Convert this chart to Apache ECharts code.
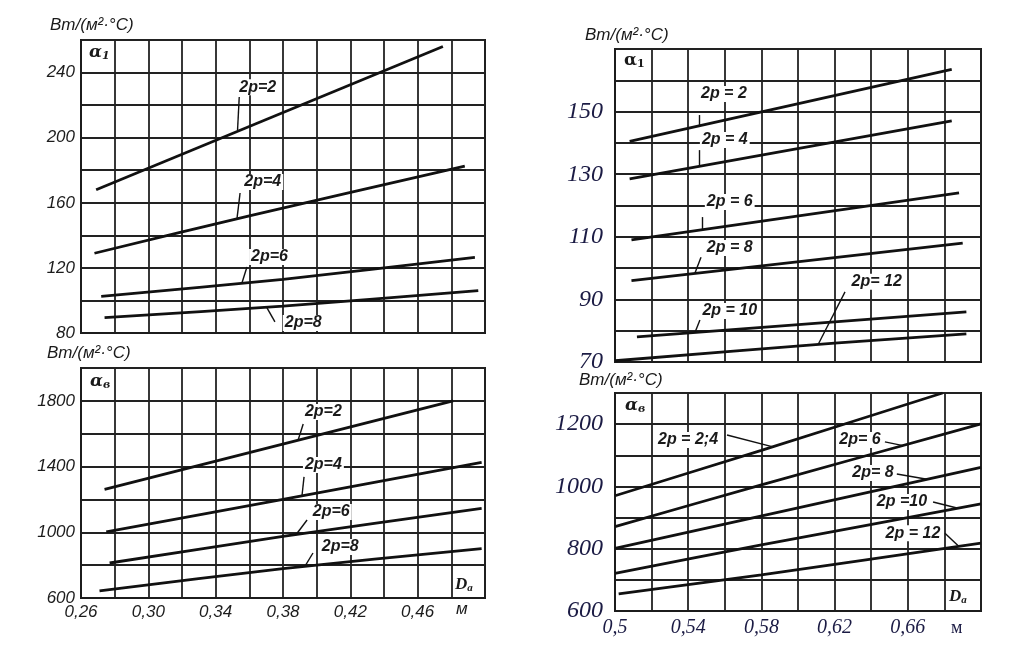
<!DOCTYPE html>
<html><head><meta charset="utf-8">
<script src="https://cdn.jsdelivr.net/npm/echarts@6/dist/echarts.min.js"></script>
<style>html,body{margin:0;padding:0;background:#fff}#c{width:1032px;height:665px}</style>
</head><body><div id="c"></div>
<script>
// ---------- DATA ----------
const xTicksLeft = ['0,26','0,30','0,34','0,38','0,42','0,46'];
const xTicksRight = ['0,5','0,54','0,58','0,62','0,66'];
const yTicksTL = [80,120,160,200,240];
const yTicksBL = [600,1000,1400,1800];
const yTicksTR = [70,90,110,130,150];
const yTicksBR = [600,800,1000,1200];

// Top-left: alpha1
const tl_2p2_x = [0.269, 0.475];        const tl_2p2_y = [168, 256];
const tl_2p4_x = [0.268, 0.36, 0.488];  const tl_2p4_y = [129, 152, 182.5];
const tl_2p6_x = [0.272, 0.38, 0.494];  const tl_2p6_y = [102.5, 113, 126.5];
const tl_2p8_x = [0.274, 0.38, 0.496];  const tl_2p8_y = [89.5, 96.5, 106];
// Bottom-left: alpha_v
const bl_2p2_x = [0.274, 0.481];        const bl_2p2_y = [1261, 1800];
const bl_2p4_x = [0.275, 0.38, 0.498];  const bl_2p4_y = [1003, 1200, 1426];
const bl_2p6_x = [0.277, 0.38, 0.498];  const bl_2p6_y = [813, 975, 1145];
const bl_2p8_x = [0.271, 0.38, 0.498];  const bl_2p8_y = [643, 779, 901];
// Top-right: alpha1
const tr_2p2_x = [0.508, 0.684];   const tr_2p2_y = [140.5, 163.5];
const tr_2p4_x = [0.508, 0.684];   const tr_2p4_y = [128.5, 147];
const tr_2p6_x = [0.509, 0.688];   const tr_2p6_y = [109, 124];
const tr_2p8_x = [0.509, 0.69];    const tr_2p8_y = [96, 108];
const tr_2p10_x = [0.512, 0.692]; const tr_2p10_y = [78, 86];
const tr_2p12_x = [0.5, 0.62, 0.692]; const tr_2p12_y = [70.4, 76, 79];
// Bottom-right: alpha_v
const br_2p24_x = [0.5, 0.58, 0.679]; const br_2p24_y = [970, 1116, 1300];
const br_2p6_x = [0.5, 0.58, 0.70];   const br_2p6_y = [871, 1005, 1201];
const br_2p8_x = [0.5, 0.70];         const br_2p8_y = [801, 1061];
const br_2p10_x = [0.5, 0.58, 0.70];  const br_2p10_y = [721, 812, 944];
const br_2p12_x = [0.502, 0.58, 0.70]; const br_2p12_y = [655, 716, 818];

// Curve captions
const tl_names = ['2p=2','2p=4','2p=6','2p=8'];
const bl_names = ['2p=2','2p=4','2p=6','2p=8'];
const tr_names = ['2p = 2','2p = 4','2p = 6','2p = 8','2p = 10','2p= 12'];
const br_names = ['2p = 2;4','2p= 6','2p= 8','2p =10','2p = 12'];

// ---------- annotation anchors (data space) ----------
const tl_lab = [[0.365,231],[0.368,172.8],[0.372,126.7],[0.392,86.1]];
const tl_lead = [[[0.354,225],[0.353,204.7]],[[0.3545,166],[0.3527,150.6]],[[0.3586,120.5],[0.3556,110.7]],[[0.3705,95.4],[0.3752,86.8]]];
const bl_lab = [[0.404,1732],[0.404,1410],[0.4087,1123],[0.414,910]];
const bl_lead = [[[0.392,1659],[0.389,1562]],[[0.3925,1337],[0.3913,1224]],[[0.3943,1075],[0.3877,985]],[[0.3978,874],[0.393,792]]];
const tr_lab = [[0.5595,155.6],[0.56,140.9],[0.5627,121.1],[0.5627,106.4],[0.5627,86.3],[0.643,95.6]];
const tr_lead = [[[0.546,148.9],[0.546,145.3]],[[0.546,137.7],[0.546,132.6]],[[0.5475,116.3],[0.5475,112.3]],[[0.547,103.5],[0.5437,98.4]],[[0.5464,83.4],[0.5437,79.4]],[[0.6257,92.4],[0.611,75.6]]];
const br_lab = [[0.5399,1149],[0.6339,1149],[0.641,1043],[0.6568,950],[0.6628,850]];
const br_lead = [[[0.5612,1165],[0.5863,1127]],[[0.6475,1143],[0.6574,1131]],[[0.654,1040],[0.6705,1023]],[[0.6738,950],[0.6874,930]],[[0.6803,850],[0.6874,810]]];

// ---------- build ----------
const zip = (xs, ys) => xs.map((x, i) => [x, ys[i]]);
const INK = '#111';
const GRIDC = '#222';
const sansIt = {fontFamily:'Liberation Sans', fontStyle:'italic', color:'#1c1c1c'};
const serifIt = {fontFamily:'Liberation Serif', fontStyle:'italic', color:'#1b1b44'};

function mkSeries(idx, xs, ys, name, lab, lead, fontSize){
  return {
    type:'line', xAxisIndex:idx, yAxisIndex:idx, name:name,
    data: zip(xs, ys), symbol:'none', smooth:0.25, silent:true,
    lineStyle:{color:INK, width:2.8},
    markPoint:{
      symbol:'circle', symbolSize:1, silent:true,
      itemStyle:{color:'rgba(0,0,0,0)'},
      label:{show:true, position:'inside', formatter:p=>p.name,
        fontFamily:'Liberation Sans', fontStyle:'italic', fontWeight:'bold', fontSize:fontSize,
        color:'#1a1a1a', backgroundColor:'#fff', padding:[0,2]},
      data:[{name:name, coord:lab}]
    },
    markLine:{
      symbol:['none','none'], silent:true, label:{show:false},
      lineStyle:{color:INK, width:1.4, type:'solid'},
      data:[[{coord:lead[0]},{coord:lead[1]}]]
    }
  };
}

function xAxis(idx, min, max, ticks, showLabels, style, margin, fs, isLeft){
  return {
    type:'value', gridIndex:idx, min:min, max:max, interval:0.02,
    axisLine:{show:true, lineStyle:{color:'#1c1c1c', width:2}},
    axisTick:{show:false},
    splitLine:{show:true, lineStyle:{color:GRIDC, width:1.8}},
    axisLabel:{show:showLabels, margin:margin, fontSize:fs, ...style,
      formatter:v=>{
        let s = v.toFixed(2).replace('.', ',');
        if (!isLeft && Math.abs(v-0.5)<1e-9) s = '0,5';
        return ticks.indexOf(s) >= 0 ? s : '';
      }}
  };
}
function yAxis(idx, min, max, interval, ticks, style, margin, fs){
  return {
    type:'value', gridIndex:idx, min:min, max:max, interval:interval,
    axisLine:{show:true, lineStyle:{color:'#1c1c1c', width:2}},
    axisTick:{show:false},
    splitLine:{show:true, lineStyle:{color:GRIDC, width:1.8}},
    axisLabel:{show:true, margin:margin, fontSize:fs, ...style,
      formatter:v=> ticks.indexOf(Math.round(v)) >= 0 ? String(Math.round(v)) : ''}
  };
}

const series = [];
[[tl_2p2_x,tl_2p2_y],[tl_2p4_x,tl_2p4_y],[tl_2p6_x,tl_2p6_y],[tl_2p8_x,tl_2p8_y]].forEach((d,i)=>
  series.push(mkSeries(0, d[0], d[1], tl_names[i], tl_lab[i], tl_lead[i], 16)));
[[bl_2p2_x,bl_2p2_y],[bl_2p4_x,bl_2p4_y],[bl_2p6_x,bl_2p6_y],[bl_2p8_x,bl_2p8_y]].forEach((d,i)=>
  series.push(mkSeries(1, d[0], d[1], bl_names[i], bl_lab[i], bl_lead[i], 16)));
[[tr_2p2_x,tr_2p2_y],[tr_2p4_x,tr_2p4_y],[tr_2p6_x,tr_2p6_y],[tr_2p8_x,tr_2p8_y],[tr_2p10_x,tr_2p10_y],[tr_2p12_x,tr_2p12_y]].forEach((d,i)=>
  series.push(mkSeries(2, d[0], d[1], tr_names[i], tr_lab[i], tr_lead[i], 16)));
[[br_2p24_x,br_2p24_y],[br_2p6_x,br_2p6_y],[br_2p8_x,br_2p8_y],[br_2p10_x,br_2p10_y],[br_2p12_x,br_2p12_y]].forEach((d,i)=>
  series.push(mkSeries(3, d[0], d[1], br_names[i], br_lab[i], br_lead[i], 16)));

const unit = 'Вт/(м²·°C)';
function txt(x, y, text, extra){
  return {type:'text', left:x, top:y, silent:true, z:100,
    style:Object.assign({text:text, fill:'#1a1a1a', font:'italic 17px "Liberation Sans"'}, extra||{})};
}
function richTxt(x, y, main, sub, fam, italic){
  return {type:'text', left:x, top:y, silent:true, z:100,
    style:{text:'{m|'+main+'}{s|'+sub+'}', rich:{
      m:{fontFamily:fam, fontStyle:italic?'italic':'normal', fontSize:17, fill:'#1a1a1a', fontWeight:'bold'},
      s:{fontFamily:fam, fontStyle:italic?'italic':'normal', fontSize:11, fill:'#1a1a1a', padding:[8,0,0,0], fontWeight:'bold'}
    }}};
}

const option = {
  animation:false,
  backgroundColor:'#fff',
  grid:[
    {left:81, top:40, width:404, height:293, show:true, borderColor:'#1c1c1c', borderWidth:2},
    {left:81, top:368, width:404, height:230, show:true, borderColor:'#1c1c1c', borderWidth:2},
    {left:615, top:49, width:366, height:313, show:true, borderColor:'#1c1c1c', borderWidth:2},
    {left:615, top:393, width:366, height:218, show:true, borderColor:'#1c1c1c', borderWidth:2}
  ],
  xAxis:[
    xAxis(0, 0.26, 0.50, xTicksLeft, false, sansIt, 4, 16, true),
    xAxis(1, 0.26, 0.50, xTicksLeft, true, sansIt, 6, 17, true),
    xAxis(2, 0.5, 0.70, xTicksRight, false, serifIt, 8, 19, false),
    xAxis(3, 0.5, 0.70, xTicksRight, true, serifIt, 7, 20, false)
  ],
  yAxis:[
    yAxis(0, 80, 260, 20, yTicksTL, sansIt, 6, 17),
    yAxis(1, 600, 2000, 200, yTicksBL, sansIt, 6, 17),
    yAxis(2, 70, 170, 10, yTicksTR, serifIt, 12, 24),
    yAxis(3, 600, 1300, 100, yTicksBR, serifIt, 12, 24)
  ],
  series: series,
  graphic:[
    txt(50, 17, unit),
    txt(47, 345, unit),
    txt(585, 27, unit),
    txt(579, 372, unit),
    richTxt(89, 44, 'α', '1', 'DejaVu Serif', true),
    richTxt(90, 373, 'α', 'в', 'DejaVu Serif', true),
    richTxt(624, 52, 'α', '1', 'DejaVu Serif', false),
    richTxt(625, 397, 'α', 'в', 'DejaVu Serif', true),
    richTxt(455, 576, 'D', 'a', 'Liberation Serif', true),
    richTxt(949, 588, 'D', 'a', 'Liberation Serif', true),
    txt(456, 601, 'м', {font:'italic 17px "Liberation Sans"'}),
    txt(951, 619, 'м', {font:'18px "Liberation Serif"', fill:'#1b1b44'})
  ]
};
const chart = echarts.init(document.getElementById('c'), null, {renderer:'canvas'});
chart.setOption(option);
</script>
</body></html>
